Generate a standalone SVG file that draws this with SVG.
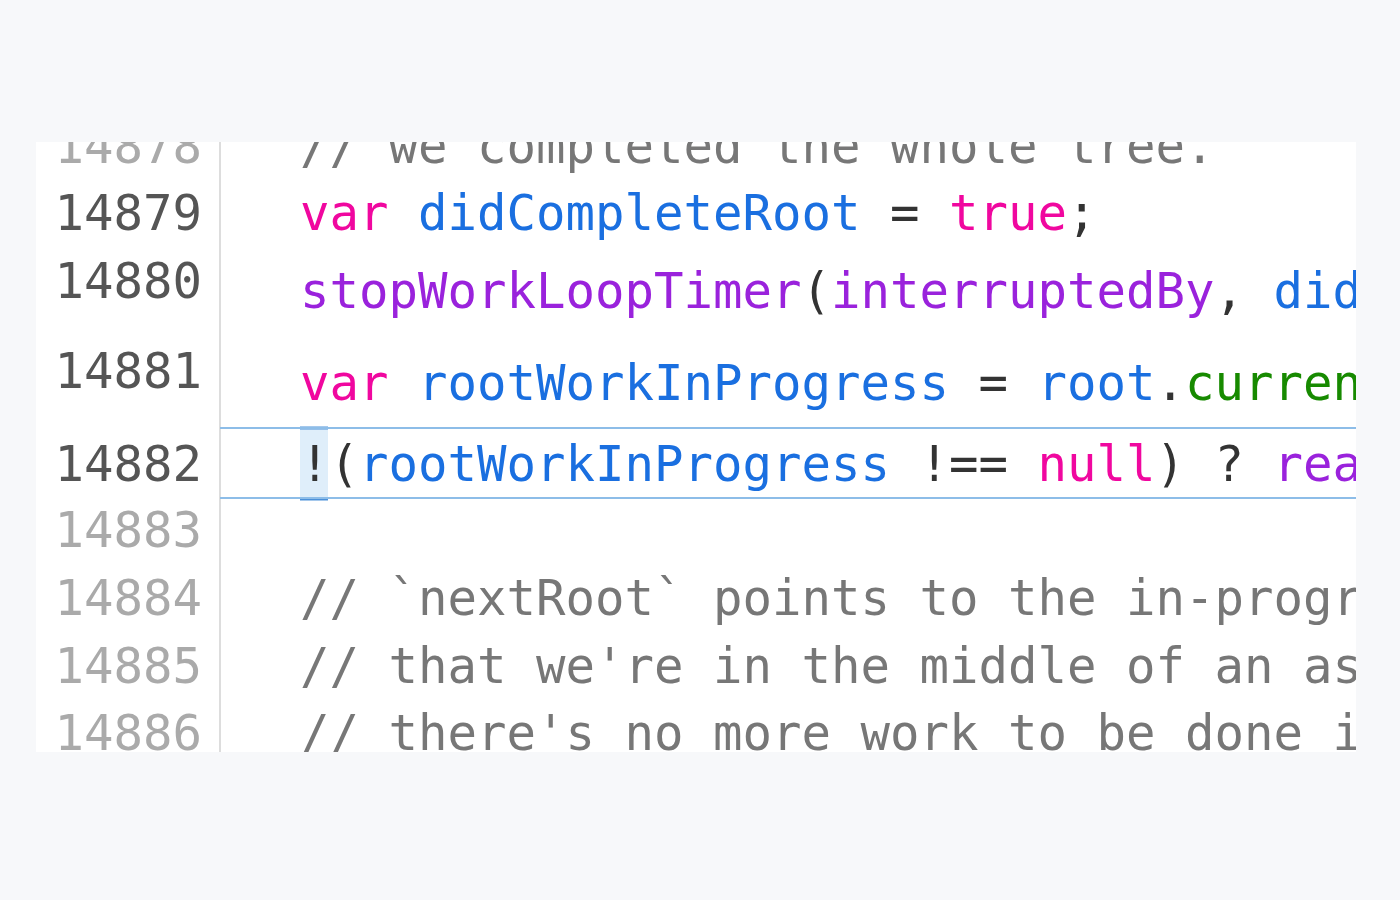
<svg xmlns="http://www.w3.org/2000/svg" width="1400" height="900" viewBox="0 0 1400 900">
<defs>
<style>
text{font-family:"DejaVu Sans Mono","Liberation Mono",monospace;font-size:49px;white-space:pre}
.n{fill:#555;text-anchor:end}.nl{fill:#aaa;text-anchor:end}
.k{fill:#f0079f}.b{fill:#1a6fe0}.p{fill:#9a22dc}.g{fill:#178a00}.d{fill:#333}.c{fill:#777}
</style>
<clipPath id="cp"><rect x="36" y="142" width="1320" height="610"/></clipPath>
</defs>
<rect width="1400" height="900" fill="#f7f8fa"/>
<g clip-path="url(#cp)">
<rect x="36" y="142" width="1320" height="610" fill="#fff"/>
<line x1="220" y1="142" x2="220" y2="752" stroke="#ddd" stroke-width="2"/>
<rect x="300" y="428" width="28" height="72" fill="#dfeefa"/>
<line x1="300" y1="428" x2="328" y2="428" stroke="#4a90d9" stroke-width="3"/>
<line x1="300" y1="499" x2="328" y2="499" stroke="#4a90d9" stroke-width="3"/>
<line x1="220" y1="428" x2="1356" y2="428" stroke="#8dbde8" stroke-width="2"/>
<line x1="220" y1="498" x2="1356" y2="498" stroke="#8dbde8" stroke-width="2"/>
<text class="nl" x="202" y="163">14878</text>
<text class="c" x="300" y="163">// we completed the whole tree.</text>
<text class="n" x="202" y="230">14879</text>
<text x="300" y="230"><tspan class="k">var</tspan><tspan class="d"> </tspan><tspan class="b">didCompleteRoot</tspan><tspan class="d"> = </tspan><tspan class="k">true</tspan><tspan class="d">;</tspan></text>
<text class="n" x="202" y="298">14880</text>
<text x="300" y="308"><tspan class="p">stopWorkLoopTimer</tspan><tspan class="d">(</tspan><tspan class="p">interruptedBy</tspan><tspan class="d">, </tspan><tspan class="b">didCompleteRoot</tspan></text>
<text class="n" x="202" y="388">14881</text>
<text x="300" y="400"><tspan class="k">var</tspan><tspan class="d"> </tspan><tspan class="b">rootWorkInProgress</tspan><tspan class="d"> = </tspan><tspan class="b">root</tspan><tspan class="d">.</tspan><tspan class="g">current</tspan></text>
<text class="n" x="202" y="481">14882</text>
<text x="300" y="481"><tspan class="d">!(</tspan><tspan class="b">rootWorkInProgress</tspan><tspan class="d"> !== </tspan><tspan class="k">null</tspan><tspan class="d">) ? </tspan><tspan class="p">reactProdInvariant</tspan></text>
<text class="nl" x="202" y="547">14883</text>
<text class="nl" x="202" y="615">14884</text>
<text class="c" x="300" y="615">// `nextRoot` points to the in-progress</text>
<text class="nl" x="202" y="683">14885</text>
<text class="c" x="300" y="683">// that we're in the middle of an async</text>
<text class="nl" x="202" y="750">14886</text>
<text class="c" x="300" y="750">// there's no more work to be done in</text>
</g>
</svg>
